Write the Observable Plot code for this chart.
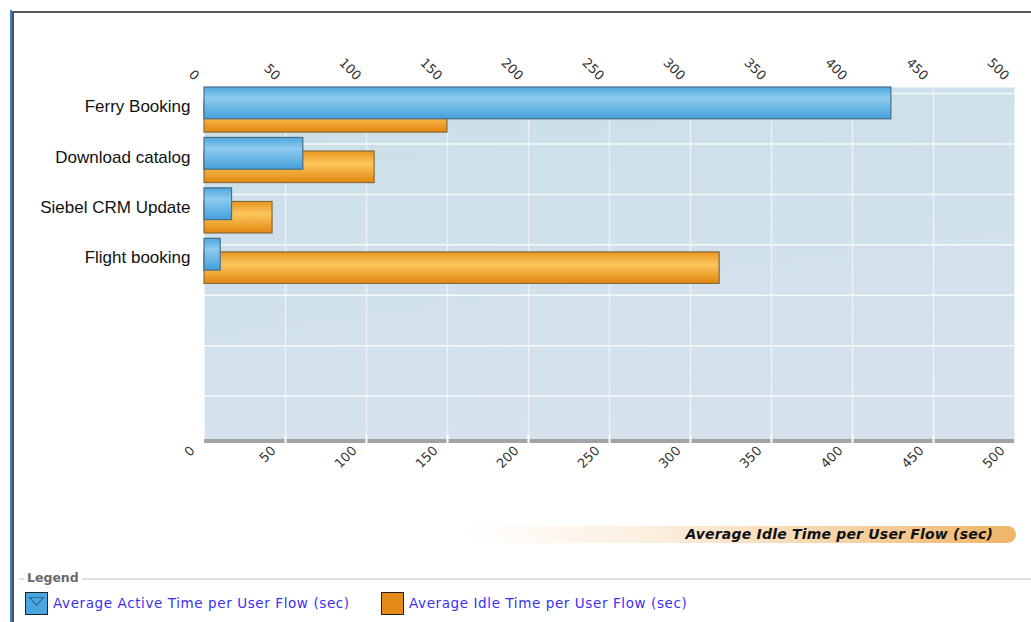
<!DOCTYPE html>
<html><head><meta charset="utf-8">
<script src="https://cdn.jsdelivr.net/npm/d3@7"></script>
<script src="https://cdn.jsdelivr.net/npm/@observablehq/plot@0.6"></script>
<style>
html,body{margin:0;padding:0;background:#fff;}
body{width:1031px;height:622px;position:relative;overflow:hidden;font-family:"DejaVu Sans",Verdana,sans-serif;}
#chart{position:absolute;left:0;top:0;}
.bl{position:absolute;}
#axisTitle{position:absolute;left:462px;top:526px;width:554px;height:17px;border-radius:0 9px 9px 0;
  background:linear-gradient(to right,rgba(248,228,200,0) 0%,rgba(248,228,200,0.6) 35%,#f6d7ae 65%,#efb468 100%);
  font:italic bold 14px "DejaVu Sans",Verdana,sans-serif;letter-spacing:0.2px;color:#111;text-align:right;line-height:17px;box-sizing:border-box;padding-right:23px;}
#legendLine{position:absolute;left:19px;top:578px;width:1012px;height:2px;background:#dedede;}
#legendTitle{position:absolute;left:24px;top:570px;background:#fff;padding:0 3px;font:bold 12.5px "DejaVu Sans",Verdana,sans-serif;color:#6a6a6a;line-height:16px;}
.item{position:absolute;top:591px;height:24px;display:flex;align-items:center;font:13.5px "DejaVu Sans",Verdana,sans-serif;letter-spacing:0.6px;color:#3a30f2;}
.sw{width:21px;height:21px;border:1.5px solid #222;margin-right:5px;position:relative;}
</style></head><body>
<div id="chart"></div>
<div class="bl" style="left:10px;top:10px;width:2px;height:612px;background:#3b7fd4;"></div>
<div class="bl" style="left:12px;top:11px;width:2px;height:611px;background:#505050;"></div>
<div class="bl" style="left:12px;top:11px;width:1019px;height:2px;background:#5a5a5a;"></div>
<div id="axisTitle"></div>
<div id="legendLine"></div>
<div id="legendTitle">Legend</div>
<div id="legend"></div>
<script>
// ---- data ----
const categories = ["Ferry Booking", "Download catalog", "Siebel CRM Update", "Flight booking"];
const activeTime = [424, 61, 17, 10];   // Average Active Time per User Flow (sec)
const idleTime = [150, 105, 42, 318];   // Average Idle Time per User Flow (sec)
const tickValues = [0, 50, 100, 150, 200, 250, 300, 350, 400, 450, 500];
const seriesNames = ["Average Active Time per User Flow (sec)", "Average Idle Time per User Flow (sec)"];
const slotCount = 7;
const axisTitle = "Average Idle Time per User Flow (sec)";

const rows = categories.map((c, i) => ({cat: c, i, active: activeTime[i], idle: idleTime[i]}));
const slots = d3.range(slotCount);
const gridX = tickValues.filter(v => v > 0 && v < 500);

const chart = Plot.plot({
  width: 1031,
  height: 570,
  marginLeft: 204,
  marginRight: 17,
  marginTop: 87,
  marginBottom: 130,
  x: {domain: [0, 500], axis: null},
  y: {domain: [0, slotCount], reverse: true, axis: null},
  style: {fontFamily: "DejaVu Sans, Verdana, sans-serif", background: "transparent"},
  marks: [
    Plot.frame({fill: "url(#bgGrad)", stroke: null}),
    Plot.ruleX(gridX, {stroke: "#ffffff", strokeOpacity: 0.55, strokeWidth: 1.5}),
    Plot.ruleY(slots, {y: d => d + 0.12, stroke: "#ffffff", strokeOpacity: 0.8, strokeWidth: 1.5}),
    Plot.ruleY([slotCount], {stroke: "#a3a3a3", strokeWidth: 4, dy: 0.5}),
    Plot.ruleX(gridX, {y1: slotCount - 0.1, y2: slotCount + 0.06, stroke: "#ffffff", strokeWidth: 2}),
    Plot.rectX(rows, {x1: 0, x2: "idle", y1: d => d.i + 0.27, y2: d => d.i + 0.895,
      fill: "url(#gOrange)", stroke: "#876a3e", strokeWidth: 1.2}),
    Plot.rectX(rows, {x1: 0, x2: "active", y1: d => d.i + 0.0, y2: d => d.i + 0.63,
      fill: "url(#gBlue)", stroke: "#4a6c86", strokeWidth: 1.2}),
    Plot.text(rows, {x: 0, y: d => d.i + 0.38, text: "cat", textAnchor: "end", dx: -14,
      fontSize: 17, fill: "#111", fontFamily: "Liberation Sans, Arial, sans-serif"}),
    Plot.text(tickValues, {x: d => d, frameAnchor: "top", text: d => String(d), rotate: 45,
      textAnchor: "end", dx: -4, dy: -13, fontSize: 13, fill: "#333"}),
    Plot.text(tickValues, {x: d => d, frameAnchor: "bottom", text: d => String(d), rotate: -45,
      textAnchor: "end", dx: -9, dy: 11, fontSize: 13, fill: "#333"})
  ]
});

const defs = d3.select(chart).insert("defs", ":first-child");
const bg = defs.append("linearGradient").attr("id", "bgGrad").attr("x1", 0).attr("y1", 0).attr("x2", 0.3).attr("y2", 1);
bg.append("stop").attr("offset", "0%").attr("stop-color", "#cbdfe8");
bg.append("stop").attr("offset", "100%").attr("stop-color", "#d5e2ee");
const gb = defs.append("linearGradient").attr("id", "gBlue").attr("x1", 0).attr("y1", 0).attr("x2", 0).attr("y2", 1);
[["0%", "#4fa7df"], ["35%", "#8dcbee"], ["100%", "#45a0dc"]].forEach(([o, c]) => gb.append("stop").attr("offset", o).attr("stop-color", c));
const go = defs.append("linearGradient").attr("id", "gOrange").attr("x1", 0).attr("y1", 0).attr("x2", 0).attr("y2", 1);
[["0%", "#e8951e"], ["40%", "#fcc65c"], ["100%", "#e2870f"]].forEach(([o, c]) => go.append("stop").attr("offset", o).attr("stop-color", c));

document.getElementById("chart").appendChild(chart);
document.getElementById("axisTitle").textContent = axisTitle;

const legend = document.getElementById("legend");
const swColors = ["#48a6e0", "#e58a18"];
const swLefts = [25, 381];
seriesNames.forEach((name, k) => {
  const it = document.createElement("div");
  it.className = "item";
  it.style.left = swLefts[k] + "px";
  const sw = document.createElement("div");
  sw.className = "sw";
  sw.style.background = swColors[k];
  if (k === 0) {
    sw.innerHTML = '<svg width="21" height="21" style="position:absolute;left:0;top:0"><path d="M3.5,4.5 L17.5,4.5 L10.5,12 Z" fill="none" stroke="#2f6d99" stroke-width="1.2"/></svg>';
  }
  const tx = document.createElement("span");
  tx.textContent = name;
  it.appendChild(sw);
  it.appendChild(tx);
  legend.appendChild(it);
});
</script>
</body></html>
